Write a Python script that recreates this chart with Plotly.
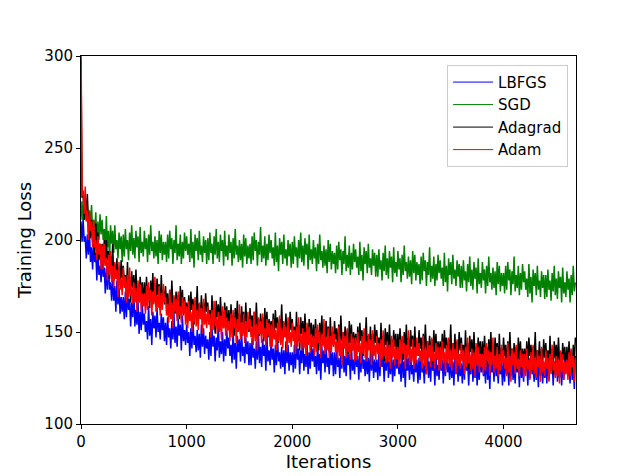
import plotly.graph_objects as go

# iteration index, sampled every 10 iterations
iters = list(range(0, 4681, 10))

lbfgs = [
    210, 199, 212, 199, 202, 190, 203, 192, 205, 188, 196, 184, 198, 188, 193, 178, 196, 181, 186, 177,
    191, 180, 185, 171, 185, 173, 188, 173, 177, 167, 179, 167, 175, 161, 178, 165, 174, 160, 169, 161,
    169, 157, 172, 158, 173, 162, 168, 153, 166, 158, 173, 153, 162, 154, 166, 149, 161, 151, 165, 154,
    160, 150, 156, 146, 164, 148, 157, 143, 161, 152, 159, 147, 163, 150, 155, 146, 160, 151, 158, 145,
    155, 143, 158, 147, 152, 141, 156, 146, 160, 144, 153, 142, 157, 148, 154, 140, 159, 145, 151, 143,
    154, 144, 150, 137, 152, 141, 157, 143, 148, 139, 151, 140, 149, 136, 154, 142, 152, 138, 148, 141,
    146, 135, 150, 137, 152, 142, 148, 134, 147, 140, 155, 136, 145, 138, 150, 134, 146, 137, 151, 141,
    147, 137, 143, 133, 151, 135, 144, 130, 148, 139, 146, 134, 150, 137, 142, 133, 147, 138, 145, 132,
    144, 132, 147, 136, 141, 130, 145, 135, 149, 133, 142, 131, 146, 137, 143, 129, 148, 134, 140, 132,
    145, 135, 141, 128, 143, 132, 148, 134, 139, 130, 142, 131, 140, 127, 145, 133, 143, 129, 139, 132,
    139, 128, 143, 130, 145, 135, 141, 127, 140, 133, 148, 129, 138, 131, 143, 127, 139, 130, 144, 134,
    141, 131, 137, 127, 145, 129, 138, 124, 142, 133, 140, 128, 144, 131, 136, 127, 141, 132, 139, 126,
    139, 127, 142, 131, 136, 125, 140, 130, 144, 128, 137, 126, 141, 132, 138, 124, 143, 129, 135, 127,
    141, 131, 137, 124, 139, 128, 144, 130, 135, 126, 138, 127, 136, 123, 141, 129, 139, 125, 135, 128,
    135, 124, 139, 126, 141, 131, 137, 123, 136, 129, 144, 125, 134, 127, 139, 123, 135, 126, 140, 130,
    137, 127, 133, 123, 141, 125, 134, 120, 138, 129, 136, 124, 140, 127, 132, 123, 137, 128, 135, 122,
    136, 124, 139, 128, 133, 122, 137, 127, 141, 125, 134, 123, 138, 129, 135, 121, 140, 126, 132, 124,
    139, 129, 135, 122, 137, 126, 142, 128, 133, 124, 136, 125, 134, 121, 139, 127, 137, 123, 133, 126,
    133, 122, 137, 124, 139, 129, 135, 121, 134, 127, 142, 123, 132, 125, 137, 121, 133, 124, 138, 128,
    136, 126, 132, 122, 140, 124, 133, 119, 137, 128, 135, 123, 139, 126, 131, 122, 136, 127, 134, 121,
    135, 123, 138, 127, 132, 121, 136, 126, 140, 124, 133, 122, 137, 128, 134, 120, 139, 125, 131, 123,
    138, 128, 134, 121, 136, 125, 141, 127, 132, 123, 135, 124, 133, 120, 138, 126, 136, 122, 132, 125,
    133, 122, 137, 124, 139, 129, 135, 121, 134, 127, 142, 123, 132, 125, 137, 121, 133, 124, 138, 128,
    136, 126, 132, 122, 140, 124, 133, 119, 137,
]

sgd = [
    221, 211, 221, 211, 222, 214, 219, 204, 216, 208, 219, 203, 211, 204, 215, 198, 210, 200, 214, 203,
    211, 200, 206, 195, 213, 196, 205, 190, 208, 198, 205, 193, 208, 195, 200, 190, 204, 195, 202, 188,
    203, 191, 206, 195, 200, 189, 204, 194, 208, 192, 201, 190, 205, 196, 202, 188, 207, 193, 199, 191,
    205, 195, 201, 188, 203, 192, 208, 194, 199, 190, 202, 191, 200, 187, 205, 193, 203, 189, 199, 192,
    199, 188, 203, 190, 205, 195, 201, 187, 200, 193, 208, 189, 198, 191, 203, 187, 199, 190, 204, 194,
    202, 192, 198, 188, 206, 190, 199, 185, 203, 194, 201, 189, 205, 192, 197, 188, 202, 193, 200, 187,
    201, 189, 204, 193, 198, 187, 202, 192, 206, 190, 199, 188, 203, 194, 200, 186, 205, 191, 197, 189,
    203, 193, 199, 186, 201, 190, 206, 192, 197, 188, 200, 189, 198, 185, 203, 191, 201, 187, 197, 190,
    198, 187, 202, 189, 204, 194, 200, 186, 199, 192, 207, 188, 197, 190, 202, 186, 198, 189, 203, 193,
    200, 190, 196, 186, 204, 188, 197, 183, 201, 192, 199, 187, 203, 190, 195, 186, 200, 191, 198, 185,
    199, 187, 202, 191, 196, 185, 200, 190, 204, 188, 197, 186, 201, 192, 198, 184, 203, 189, 195, 187,
    200, 190, 196, 183, 198, 187, 203, 189, 194, 185, 197, 186, 195, 182, 200, 188, 198, 184, 194, 187,
    193, 182, 197, 184, 199, 189, 195, 181, 194, 187, 202, 183, 192, 185, 197, 181, 193, 184, 198, 188,
    195, 185, 191, 181, 199, 183, 192, 178, 196, 187, 194, 182, 198, 185, 190, 181, 195, 186, 193, 180,
    192, 180, 195, 184, 189, 178, 193, 183, 197, 181, 190, 179, 194, 185, 191, 177, 196, 182, 188, 180,
    194, 184, 190, 177, 192, 181, 197, 183, 188, 179, 191, 180, 189, 176, 194, 182, 192, 178, 188, 181,
    187, 176, 191, 178, 193, 183, 189, 175, 188, 181, 196, 177, 186, 179, 191, 175, 187, 178, 192, 182,
    189, 179, 185, 175, 193, 177, 186, 172, 190, 181, 188, 176, 192, 179, 184, 175, 189, 180, 187, 174,
    186, 174, 189, 178, 183, 172, 187, 177, 191, 175, 184, 173, 188, 179, 185, 171, 190, 176, 182, 174,
    188, 178, 184, 171, 186, 175, 191, 177, 182, 173, 185, 174, 183, 170, 188, 176, 186, 172, 182, 175,
    182, 171, 186, 173, 188, 178, 184, 170, 183, 176, 191, 172, 181, 174, 186, 170, 182, 173, 187, 177,
    183, 173, 179, 169, 187, 171, 180, 166, 184, 175, 182, 170, 186, 173, 178, 169, 183, 174, 181, 168,
    181, 169, 184, 173, 178, 167, 182, 172, 186, 170, 179, 168, 183, 174, 180, 166, 185, 171, 177, 169,
    183, 173, 179, 166, 181, 170, 186, 172, 177,
]

adagrad = [
    298, 223, 226, 211, 224, 211, 225, 209, 212, 201, 211, 199, 206, 192, 209, 195, 204, 189, 198, 190,
    198, 186, 200, 186, 200, 189, 194, 179, 191, 184, 198, 178, 187, 179, 190, 174, 185, 176, 189, 179,
    186, 176, 181, 171, 188, 172, 180, 166, 183, 174, 181, 168, 184, 171, 175, 166, 180, 170, 177, 164,
    177, 165, 180, 169, 174, 163, 178, 168, 182, 166, 175, 164, 179, 170, 176, 162, 181, 167, 173, 165,
    175, 165, 171, 158, 173, 162, 178, 164, 169, 160, 172, 161, 170, 157, 175, 163, 173, 159, 169, 162,
    166, 155, 170, 157, 172, 162, 168, 154, 167, 160, 175, 156, 165, 158, 170, 154, 166, 157, 171, 161,
    166, 156, 162, 152, 170, 154, 163, 149, 167, 158, 165, 153, 169, 156, 161, 152, 166, 157, 164, 151,
    162, 150, 165, 154, 159, 148, 163, 153, 167, 151, 160, 149, 164, 155, 161, 147, 166, 152, 158, 150,
    163, 153, 159, 146, 161, 150, 166, 152, 157, 148, 160, 149, 158, 145, 163, 151, 161, 147, 157, 150,
    156, 145, 160, 147, 162, 152, 158, 144, 157, 150, 165, 146, 155, 148, 160, 144, 156, 147, 161, 151,
    157, 147, 153, 143, 161, 145, 154, 140, 158, 149, 156, 144, 160, 147, 152, 143, 157, 148, 155, 142,
    154, 142, 157, 146, 151, 140, 155, 145, 159, 143, 152, 141, 156, 147, 153, 139, 158, 144, 150, 142,
    156, 146, 152, 139, 154, 143, 159, 145, 150, 141, 153, 142, 151, 138, 156, 144, 154, 140, 150, 143,
    149, 138, 153, 140, 155, 145, 151, 137, 150, 143, 158, 139, 148, 141, 153, 137, 149, 140, 154, 144,
    151, 141, 147, 137, 155, 139, 148, 134, 152, 143, 150, 138, 154, 141, 146, 137, 151, 142, 149, 136,
    149, 137, 152, 141, 146, 135, 150, 140, 154, 138, 147, 136, 151, 142, 148, 134, 153, 139, 145, 137,
    151, 141, 147, 134, 149, 138, 154, 140, 145, 136, 148, 137, 146, 133, 151, 139, 149, 135, 145, 138,
    145, 134, 149, 136, 151, 141, 147, 133, 146, 139, 154, 135, 144, 137, 149, 133, 145, 136, 150, 140,
    147, 137, 143, 133, 151, 135, 144, 130, 148, 139, 146, 134, 150, 137, 142, 133, 147, 138, 145, 132,
    145, 133, 148, 137, 142, 131, 146, 136, 150, 134, 143, 132, 147, 138, 144, 130, 149, 135, 141, 133,
    147, 137, 143, 130, 145, 134, 150, 136, 141, 132, 144, 133, 142, 129, 147, 135, 145, 131, 141, 134,
    141, 130, 145, 132, 147, 137, 143, 129, 142, 135, 150, 131, 140, 133, 145, 129, 141, 132, 146, 136,
    144, 134, 140, 130, 148, 132, 141, 127, 145, 136, 143, 131, 147, 134, 139, 130, 144, 135, 142, 129,
    142, 130, 145, 134, 139, 128, 143, 133, 147,
]

adam = [
    310, 224, 227, 214, 229, 210, 216, 200, 216, 205, 210, 196, 211, 196, 200, 189, 202, 192, 198, 184,
    197, 184, 198, 186, 190, 178, 192, 181, 194, 177, 186, 174, 188, 179, 184, 169, 188, 173, 179, 170,
    185, 174, 180, 166, 181, 169, 185, 170, 175, 165, 177, 166, 174, 161, 178, 166, 176, 161, 171, 164,
    171, 160, 175, 162, 177, 167, 173, 159, 172, 165, 180, 161, 170, 163, 175, 159, 171, 162, 176, 166,
    169, 159, 165, 155, 173, 157, 166, 152, 170, 161, 168, 156, 172, 159, 164, 155, 169, 160, 167, 154,
    164, 152, 167, 156, 161, 150, 165, 155, 169, 153, 162, 151, 166, 157, 163, 149, 168, 154, 160, 152,
    164, 154, 160, 147, 162, 151, 167, 153, 158, 149, 161, 150, 159, 146, 164, 152, 162, 148, 158, 151,
    156, 145, 160, 147, 162, 152, 158, 144, 157, 150, 165, 146, 155, 148, 160, 144, 156, 147, 161, 151,
    157, 147, 153, 143, 161, 145, 154, 140, 158, 149, 156, 144, 160, 147, 152, 143, 157, 148, 155, 142,
    154, 142, 157, 146, 151, 140, 155, 145, 159, 143, 152, 141, 156, 147, 153, 139, 158, 144, 150, 142,
    155, 145, 151, 138, 153, 142, 158, 144, 149, 140, 152, 141, 150, 137, 155, 143, 153, 139, 149, 142,
    148, 137, 152, 139, 154, 144, 150, 136, 149, 142, 157, 138, 147, 140, 152, 136, 148, 139, 153, 143,
    149, 139, 145, 135, 153, 137, 146, 132, 150, 141, 148, 136, 152, 139, 144, 135, 149, 140, 147, 134,
    147, 135, 150, 139, 144, 133, 148, 138, 152, 136, 145, 134, 149, 140, 146, 132, 151, 137, 143, 135,
    148, 138, 144, 131, 146, 135, 151, 137, 142, 133, 145, 134, 143, 130, 148, 136, 146, 132, 142, 135,
    142, 131, 146, 133, 148, 138, 144, 130, 143, 136, 151, 132, 141, 134, 146, 130, 142, 133, 147, 137,
    144, 134, 140, 130, 148, 132, 141, 127, 145, 136, 143, 131, 147, 134, 139, 130, 144, 135, 142, 129,
    142, 130, 145, 134, 139, 128, 143, 133, 147, 131, 140, 129, 144, 135, 141, 127, 146, 132, 138, 130,
    144, 134, 140, 127, 142, 131, 147, 133, 138, 129, 141, 130, 139, 126, 144, 132, 142, 128, 138, 131,
    138, 127, 142, 129, 144, 134, 140, 126, 139, 132, 147, 128, 137, 130, 142, 126, 138, 129, 143, 133,
    140, 130, 136, 126, 144, 128, 137, 123, 141, 132, 139, 127, 143, 130, 135, 126, 140, 131, 138, 125,
    138, 126, 141, 130, 135, 124, 139, 129, 143, 127, 136, 125, 140, 131, 137, 123, 142, 128, 134, 126,
    140, 130, 136, 123, 138, 127, 143, 129, 134, 125, 137, 126, 135, 122, 140, 128, 138, 124, 134, 127,
    135, 124, 139, 126, 141, 131, 137, 123, 136,
]

series = [
    ("LBFGS", lbfgs, "#0000ff"),
    ("SGD", sgd, "#008000"),
    ("Adagrad", adagrad, "#000000"),
    ("Adam", adam, "#ff0000"),
]
for name, vals, color in series:
    assert len(vals) == len(iters), (name, len(vals), len(iters))

fig = go.Figure()
for name, vals, color in series:
    fig.add_trace(go.Scatter(
        x=iters, y=vals, mode="lines", name=name, showlegend=False,
        line=dict(color=color, width=1.5, simplify=False),
    ))
# thin legend samples, like the matplotlib legend
for name, vals, color in series:
    fig.add_trace(go.Scatter(
        x=[None], y=[None], mode="lines", name=name,
        line=dict(color=color, width=1),
    ))

axis_style = dict(
    showline=True, linecolor="black", linewidth=1, mirror=True,
    ticks="outside", ticklen=4, tickcolor="black",
    showgrid=False, zeroline=False, automargin=False,
)

# page body has an 8px offset, so the figure is 8px smaller than the window
fig.update_layout(
    width=632, height=468,
    margin=dict(l=73, r=64, t=48, b=52),
    paper_bgcolor="white", plot_bgcolor="white",
    font=dict(family="DejaVu Sans", size=15, color="black"),
    xaxis=dict(range=[0, 4686], tickvals=[0, 1000, 2000, 3000, 4000],
               title=dict(text="Iterations", standoff=4), **axis_style),
    yaxis=dict(range=[100, 300], tickvals=[100, 150, 200, 250, 300],
               title=dict(text="Training Loss", standoff=8), **axis_style),
    legend=dict(x=0.984, y=0.976, xanchor="right", yanchor="top",
                font=dict(size=15), itemwidth=40,
                bordercolor="#cccccc", borderwidth=1, bgcolor="white"),
)

fig.write_html("out.html")
